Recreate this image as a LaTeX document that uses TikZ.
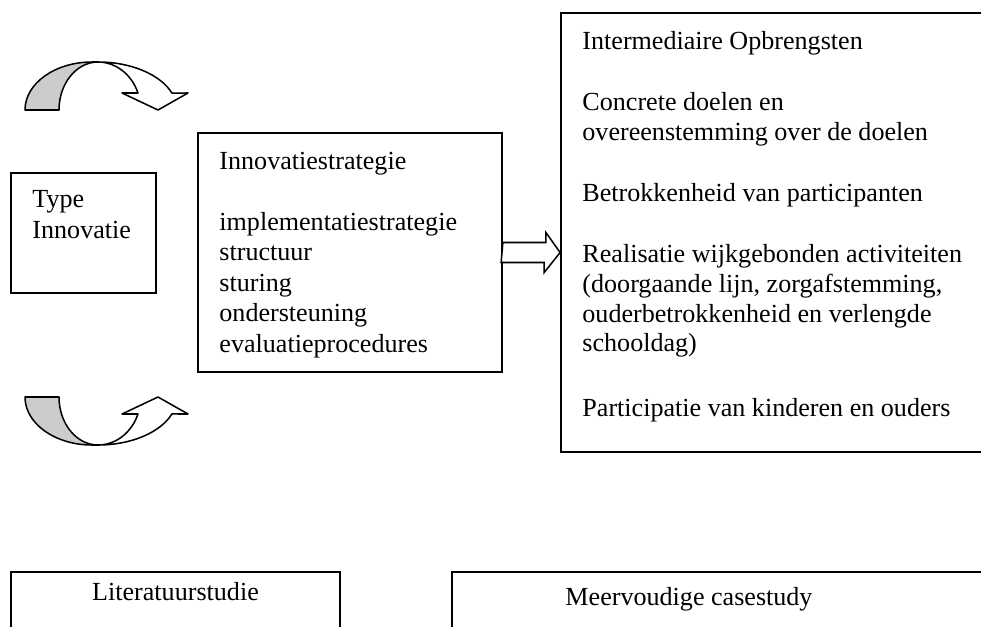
\documentclass[tikz,border=0pt]{standalone}
\usepackage{fontspec}
\setmainfont{Liberation Serif}
\usetikzlibrary{fit}

\tikzset{
  box/.style={draw, line width=0.8pt, inner sep=0pt},
  band/.style={draw, line width=0.7pt, line join=round},
  txt/.style={anchor=base west, inner sep=0pt, font=\fontsize{12}{13.8}\selectfont},
  ctxt/.style={txt, anchor=base},
}

\begin{document}
\begin{tikzpicture}[x=0.46pt,y=0.46pt,yscale=-1,xscale=1]
\useasboundingbox (0,0) rectangle (981,626);
\clip (0,0) rectangle (981,626);

%Curved arrow top
\draw [band, fill=gray!40] (25,110) arc [start angle=180, end angle=270, x radius=67, y radius=48] -- (98,62) arc [start angle=-90, end angle=-180, x radius=39, y radius=48] -- cycle;
\draw [band, fill=white] (98,62) arc [start angle=-90, end angle=-20.7, x radius=79, y radius=48] -- (188,93) -- (158,110) -- (122,93) -- (138,93) arc [start angle=-20.7, end angle=-90, x radius=43, y radius=48] -- cycle;

%Curved arrow bottom
\draw [band, fill=gray!40] (25,397) arc [start angle=180, end angle=90, x radius=67, y radius=48] -- (98,445) arc [start angle=90, end angle=180, x radius=39, y radius=48] -- cycle;
\draw [band, fill=white] (98,445) arc [start angle=90, end angle=20.7, x radius=79, y radius=48] -- (188,414) -- (158,397) -- (122,414) -- (138,414) arc [start angle=20.7, end angle=90, x radius=43, y radius=48] -- cycle;

%Boxes
\node [box, fit={(11,173) (156,293)}] (type) {};
\node [box, fit={(198,133) (502,372)}] (strat) {};
\node [box, fit={(561,13) (1000,452)}] (result) {};
\node [box, fit={(11,572) (340,640)}] (lit) {};
\node [box, fit={(452,572) (1000,640)}] (cases) {};

%Block arrow
\draw [band, line join=miter, fill=white] (strat.east) ++(0,-10) -- ++(43,0) -- ++(0,-10) -- (strat.east -| result.west) -- ++(-16,20) -- ++(0,-10) -- ++(-43,0) -- cycle;

% Text Node
\node [txt] (typeA) at (32,207) {Type};
\node [txt] (typeB) at (32,238) {Innovatie};
% Text Node
\node [txt] (stratA) at (219,169) {Innovatiestrategie};
\node [txt] (stratB) at (219,230) {implementatiestrategie};
\node [txt] (stratC) at (219,260.5) {structuur};
\node [txt] (stratD) at (219,291) {sturing};
\node [txt] (stratE) at (219,321.5) {ondersteuning};
\node [txt] (stratF) at (219,352) {evaluatieprocedures};
% Text Node
\node [txt] (resA) at (582,49) {Intermediaire Opbrengsten};
\node [txt] (resB) at (582,110) {Concrete doelen en};
\node [txt] (resC) at (582,140.5) {overeenstemming over de doelen};
\node [txt] (resD) at (582,201.5) {Betrokkenheid van participanten};
\node [txt] (resE) at (582,262.5) {Realisatie wijkgebonden activiteiten};
\node [txt] (resF) at (582,292) {(doorgaande lijn, zorgafstemming,};
\node [txt] (resG) at (582,322) {ouderbetrokkenheid en verlengde};
\node [txt] (resH) at (582,351) {schooldag)};
\node [txt] (resI) at (582,416) {Participatie van kinderen en ouders};
% Text Node
\node [ctxt] (litA) at (175.5,600) {Literatuurstudie};
\node [ctxt] (casesA) at (689,605) {Meervoudige casestudy};

\end{tikzpicture}
\end{document}
